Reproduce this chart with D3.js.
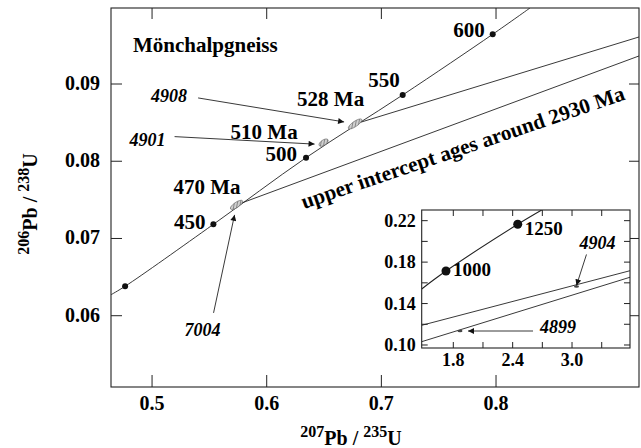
<!DOCTYPE html>
<html>
<head>
<meta charset="utf-8">
<script src="https://cdn.jsdelivr.net/npm/d3@7"></script>
<style>
  body { margin: 0; background: #fff; }
  svg text { font-family: "Liberation Serif", "DejaVu Serif", serif; font-weight: 700; }
</style>
</head>
<body>
<div id="chart"></div>
<script>
// Concordia diagram, 207Pb/235U vs 206Pb/238U

// main diagram
var xTicks = [0.5, 0.6, 0.7, 0.8],
    yTicks = [0.06, 0.07, 0.08, 0.09];

// concordia trace (enters left edge, leaves top edge)
var concordiaTrace = [[0.4642, 0.06272], [0.4765, 0.06381], [0.5535, 0.07183],
    [0.6343, 0.08046], [0.7186, 0.08858], [0.7971, 0.09644], [0.8296, 0.09984]];

var ageDots = [
  {age: 400, x: 0.4765, y: 0.06381, label: ""},
  {age: 450, x: 0.5535, y: 0.07183, label: "450"},
  {age: 500, x: 0.6343, y: 0.08046, label: "500"},
  {age: 550, x: 0.7186, y: 0.08858, label: "550"},
  {age: 600, x: 0.7971, y: 0.09644, label: "600"}
];

// analysed fractions (error ellipses), err = half length along 207/235
var fractions = [
  {name: "7004", age: "470 Ma", x: 0.5737, y: 0.07435, err: 0.0052},
  {name: "4901", age: "510 Ma", x: 0.6496, y: 0.08241, err: 0.0038},
  {name: "4908", age: "528 Ma", x: 0.6771, y: 0.08483, err: 0.0058}
];

// discordia lines towards the upper intercept
var discordias = [
  [[0.5737, 0.07435], [0.9247, 0.09363]],
  [[0.6771, 0.08483], [0.9247, 0.09609]]
];

// inset
var insetXTicks = [1.8, 2.1, 2.4, 2.7, 3.0, 3.3],
    insetXLabels = [1.8, 2.4, 3.0],
    insetYTicks = [0.10, 0.12, 0.14, 0.16, 0.18, 0.20, 0.22],
    insetYLabels = [0.10, 0.14, 0.18, 0.22];

var insetConcordia = [[1.4806, 0.1541], [1.726, 0.1714], [2.451, 0.2165], [2.6936, 0.2303]];
var insetDots = [
  {age: 1000, x: 1.726, y: 0.1714},
  {age: 1250, x: 2.451, y: 0.2165}
];
var insetDiscordias = [
  [[1.4806, 0.1190], [3.586, 0.1717]],
  [[1.4806, 0.1032], [3.586, 0.1654]]
];
var insetFractions = [
  {name: "4904", x: 3.045, y: 0.1565},
  {name: "4899", x: 1.868, y: 0.1135}
];

var width = 641, height = 448;

var svg = d3.select("#chart").append("svg")
    .attr("width", width)
    .attr("height", height)
    .attr("font-family", "Liberation Serif, DejaVu Serif, serif")
    .attr("font-weight", "bold");

var defs = svg.append("defs");

defs.append("marker")
    .attr("id", "arrow")
    .attr("viewBox", "0 0 10 10")
    .attr("refX", 10).attr("refY", 5)
    .attr("markerWidth", 8).attr("markerHeight", 6)
    .attr("markerUnits", "userSpaceOnUse")
    .attr("orient", "auto")
  .append("path")
    .attr("d", "M0,0L10,5L0,10z")
    .attr("fill", "#111");

var hatch = defs.append("pattern")
    .attr("id", "hatch")
    .attr("patternUnits", "userSpaceOnUse")
    .attr("width", 3).attr("height", 3)
    .attr("patternTransform", "rotate(45)");
hatch.append("rect").attr("width", 3).attr("height", 3).attr("fill", "#d0d0d0");
hatch.append("line").attr("x1", 0).attr("y1", 0).attr("x2", 0).attr("y2", 3)
    .attr("stroke", "#555").attr("stroke-width", 1.2);

// Main scales
var plot = {left: 111, right: 639, top: 8, bottom: 387};

var x = d3.scaleLinear().domain([0.4642, 0.9247]).range([plot.left, plot.right]);
var y = d3.scaleLinear().domain([0.05077, 0.09984]).range([plot.bottom, plot.top]);

defs.append("clipPath").attr("id", "clipMain")
  .append("rect")
    .attr("x", plot.left).attr("y", plot.top)
    .attr("width", plot.right - plot.left).attr("height", plot.bottom - plot.top);

var line = d3.line()
    .x(function(d) { return x(d[0]); })
    .y(function(d) { return y(d[1]); });

var main = svg.append("g").attr("clip-path", "url(#clipMain)");

main.append("path")
    .datum(concordiaTrace)
    .attr("d", line.curve(d3.curveCatmullRom.alpha(0.5)))
    .attr("fill", "none").attr("stroke", "#222").attr("stroke-width", 0.9);

line.curve(d3.curveLinear);

main.selectAll(".discordia").data(discordias).enter()
  .append("path")
    .attr("class", "discordia")
    .attr("d", line)
    .attr("fill", "none").attr("stroke", "#222").attr("stroke-width", 0.9);

// ellipses oriented along the concordia
var a0 = concordiaTrace[0], a1 = concordiaTrace[concordiaTrace.length - 1];
var angle = Math.atan2(y(a1[1]) - y(a0[1]), x(a1[0]) - x(a0[0]));

main.selectAll(".ellipse").data(fractions).enter()
  .append("ellipse")
    .attr("class", "ellipse")
    .attr("transform", function(d) {
      return "translate(" + x(d.x) + "," + y(d.y) + ") rotate(" + (angle * 180 / Math.PI) + ")";
    })
    .attr("rx", function(d) { return (x(d.x + d.err) - x(d.x)) / Math.cos(angle); })
    .attr("ry", 2.6)
    .attr("fill", "url(#hatch)")
    .attr("stroke", "#666").attr("stroke-width", 0.6);

main.selectAll(".dot").data(ageDots).enter()
  .append("circle")
    .attr("class", "dot")
    .attr("cx", function(d) { return x(d.x); })
    .attr("cy", function(d) { return y(d.y); })
    .attr("r", 3)
    .attr("fill", "#111");

// frame and ticks
svg.append("rect")
    .attr("x", plot.left).attr("y", plot.top)
    .attr("width", plot.right - plot.left).attr("height", plot.bottom - plot.top)
    .attr("fill", "none").attr("stroke", "#222").attr("stroke-width", 1.1);

var tickG = svg.append("g").attr("stroke", "#222").attr("stroke-width", 1);
xTicks.forEach(function(t) {
  tickG.append("line").attr("x1", x(t)).attr("x2", x(t)).attr("y1", plot.bottom).attr("y2", plot.bottom - 12);
  tickG.append("line").attr("x1", x(t)).attr("x2", x(t)).attr("y1", plot.top).attr("y2", plot.top + 11);
});
yTicks.forEach(function(t) {
  tickG.append("line").attr("y1", y(t)).attr("y2", y(t)).attr("x1", plot.left).attr("x2", plot.left + 11);
  tickG.append("line").attr("y1", y(t)).attr("y2", y(t)).attr("x1", plot.right).attr("x2", plot.right - 10);
});

svg.selectAll(".xlab").data(xTicks).enter()
  .append("text")
    .attr("x", function(d) { return x(d); })
    .attr("y", plot.bottom + 23)
    .attr("text-anchor", "middle")
    .attr("font-size", 20)
    .text(function(d) { return d3.format(".1f")(d); });

svg.selectAll(".ylab").data(yTicks).enter()
  .append("text")
    .attr("x", plot.left - 11)
    .attr("y", function(d) { return y(d) + 6; })
    .attr("text-anchor", "end")
    .attr("font-size", 20)
    .text(function(d) { return d3.format(".2f")(d); });

// axis titles with superscript mass numbers
function isotopeLabel(sel, a, b, c, d) {
  sel.append("tspan").attr("font-size", 16).attr("dy", -8).text(a);
  sel.append("tspan").attr("font-size", 20).attr("dy", 8).text(b);
  sel.append("tspan").attr("font-size", 16).attr("dy", -8).text(c);
  sel.append("tspan").attr("font-size", 20).attr("dy", 8).text(d);
}

svg.append("text")
    .attr("transform", "translate(351,445)")
    .attr("text-anchor", "middle")
    .call(isotopeLabel, "207", "Pb / ", "235", "U");

svg.append("text")
    .attr("transform", "translate(37,204) rotate(-90)")
    .attr("text-anchor", "middle")
    .call(isotopeLabel, "206", "Pb / ", "238", "U");

// annotations
svg.append("text")
    .attr("x", 133).attr("y", 52)
    .attr("font-size", 21)
    .text("Mönchalpgneiss");

var dotOffsets = {450: [-8, 5], 500: [-9, 3], 550: [-3, -8], 600: [-8, 3]};
svg.selectAll(".agelab").data(ageDots.filter(function(d) { return d.label; })).enter()
  .append("text")
    .attr("x", function(d) { return x(d.x) + dotOffsets[d.age][0]; })
    .attr("y", function(d) { return y(d.y) + dotOffsets[d.age][1]; })
    .attr("text-anchor", "end")
    .attr("font-size", 21)
    .text(function(d) { return d.label; });

// per fraction: age label offset, sample name position, arrow start, arrow tip
var fracNotes = {
  "7004": {age: [-63, -11], name: [-52, 131], from: [-23, 108], tip: [-2, 10]},
  "4901": {age: [-93, -4], name: [-194, 3], from: [-149, -6], tip: [-9, 1.5]},
  "4908": {age: [-58, -18], name: [-204, -22], from: [-157, -26], tip: [-11, -2]}
};

fractions.forEach(function(f) {
  var px = x(f.x), py = y(f.y), n = fracNotes[f.name];
  svg.append("text")
      .attr("x", px + n.age[0]).attr("y", py + n.age[1])
      .attr("font-size", 21)
      .text(f.age);
  svg.append("text")
      .attr("x", px + n.name[0]).attr("y", py + n.name[1])
      .attr("font-size", 18).attr("font-style", "italic")
      .text(f.name);
  svg.append("line")
      .attr("x1", px + n.from[0]).attr("y1", py + n.from[1])
      .attr("x2", px + n.tip[0]).attr("y2", py + n.tip[1])
      .attr("stroke", "#222").attr("stroke-width", 0.9)
      .attr("marker-end", "url(#arrow)");
});

svg.append("text")
    .attr("transform", "translate(304,209) rotate(-18.8)")
    .attr("font-size", 21.3)
    .text("upper intercept ages around 2930 Ma");

// Inset
var ins = {left: 421.7, right: 630, top: 210, bottom: 348};
var xi = d3.scaleLinear().domain([1.4806, 3.586]).range([ins.left, ins.right]);
var yi = d3.scaleLinear().domain([0.0971, 0.2303]).range([ins.bottom, ins.top]);

var lineI = d3.line()
    .x(function(d) { return xi(d[0]); })
    .y(function(d) { return yi(d[1]); });

defs.append("clipPath").attr("id", "clipInset")
  .append("rect")
    .attr("x", ins.left).attr("y", ins.top)
    .attr("width", ins.right - ins.left).attr("height", ins.bottom - ins.top);

svg.append("rect")
    .attr("x", ins.left).attr("y", ins.top)
    .attr("width", ins.right - ins.left).attr("height", ins.bottom - ins.top)
    .attr("fill", "#fff");

var inset = svg.append("g").attr("clip-path", "url(#clipInset)");

inset.append("path")
    .datum(insetConcordia)
    .attr("d", lineI.curve(d3.curveCatmullRom.alpha(0.5)))
    .attr("fill", "none").attr("stroke", "#222").attr("stroke-width", 1.1);

lineI.curve(d3.curveLinear);

inset.selectAll(".idisc").data(insetDiscordias).enter()
  .append("path")
    .attr("class", "idisc")
    .attr("d", lineI)
    .attr("fill", "none").attr("stroke", "#222").attr("stroke-width", 0.9);

inset.selectAll(".iell").data(insetFractions).enter()
  .append("ellipse")
    .attr("class", "iell")
    .attr("cx", function(d) { return xi(d.x); })
    .attr("cy", function(d) { return yi(d.y); })
    .attr("rx", 2.5).attr("ry", 1.2)
    .attr("fill", "#444");

inset.selectAll(".idot").data(insetDots).enter()
  .append("circle")
    .attr("class", "idot")
    .attr("cx", function(d) { return xi(d.x); })
    .attr("cy", function(d) { return yi(d.y); })
    .attr("r", 4.5)
    .attr("fill", "#111");

svg.append("rect")
    .attr("x", ins.left).attr("y", ins.top)
    .attr("width", ins.right - ins.left).attr("height", ins.bottom - ins.top)
    .attr("fill", "none").attr("stroke", "#222").attr("stroke-width", 1.1);

var tickI = svg.append("g").attr("stroke", "#222").attr("stroke-width", 1);
insetXTicks.forEach(function(t) {
  tickI.append("line").attr("x1", xi(t)).attr("x2", xi(t)).attr("y1", ins.bottom).attr("y2", ins.bottom - 6);
  tickI.append("line").attr("x1", xi(t)).attr("x2", xi(t)).attr("y1", ins.top).attr("y2", ins.top + 6);
});
insetYTicks.forEach(function(t) {
  tickI.append("line").attr("y1", yi(t)).attr("y2", yi(t)).attr("x1", ins.left).attr("x2", ins.left + 6);
  tickI.append("line").attr("y1", yi(t)).attr("y2", yi(t)).attr("x1", ins.right).attr("x2", ins.right - 6);
});

svg.selectAll(".ixlab").data(insetXLabels).enter()
  .append("text")
    .attr("x", function(d) { return xi(d); })
    .attr("y", ins.bottom + 18)
    .attr("text-anchor", "middle")
    .attr("font-size", 18)
    .text(function(d) { return d3.format(".1f")(d); });

svg.selectAll(".iylab").data(insetYLabels).enter()
  .append("text")
    .attr("x", ins.left - 6)
    .attr("y", function(d) { return yi(d) + 6; })
    .attr("text-anchor", "end")
    .attr("font-size", 18)
    .text(function(d) { return d3.format(".2f")(d); });

var insetDotOffsets = {1000: [7, 5], 1250: [7, 11]};
svg.selectAll(".iagelab").data(insetDots).enter()
  .append("text")
    .attr("x", function(d) { return xi(d.x) + insetDotOffsets[d.age][0]; })
    .attr("y", function(d) { return yi(d.y) + insetDotOffsets[d.age][1]; })
    .attr("font-size", 19)
    .text(function(d) { return d.age; });

// inset sample names and arrows: name position, arrow start, arrow tip
var insetNotes = {
  "4904": {name: [3, -37], from: [10, -32], tip: [0, -1]},
  "4899": {name: [80, 2], from: [73, 0], tip: [8, 0]}
};
insetFractions.forEach(function(f) {
  var px = xi(f.x), py = yi(f.y), n = insetNotes[f.name];
  svg.append("text")
      .attr("x", px + n.name[0]).attr("y", py + n.name[1])
      .attr("font-size", 18).attr("font-style", "italic")
      .text(f.name);
  svg.append("line")
      .attr("x1", px + n.from[0]).attr("y1", py + n.from[1])
      .attr("x2", px + n.tip[0]).attr("y2", py + n.tip[1])
      .attr("stroke", "#222").attr("stroke-width", 0.9)
      .attr("marker-end", "url(#arrow)");
});
</script>
</body>
</html>
